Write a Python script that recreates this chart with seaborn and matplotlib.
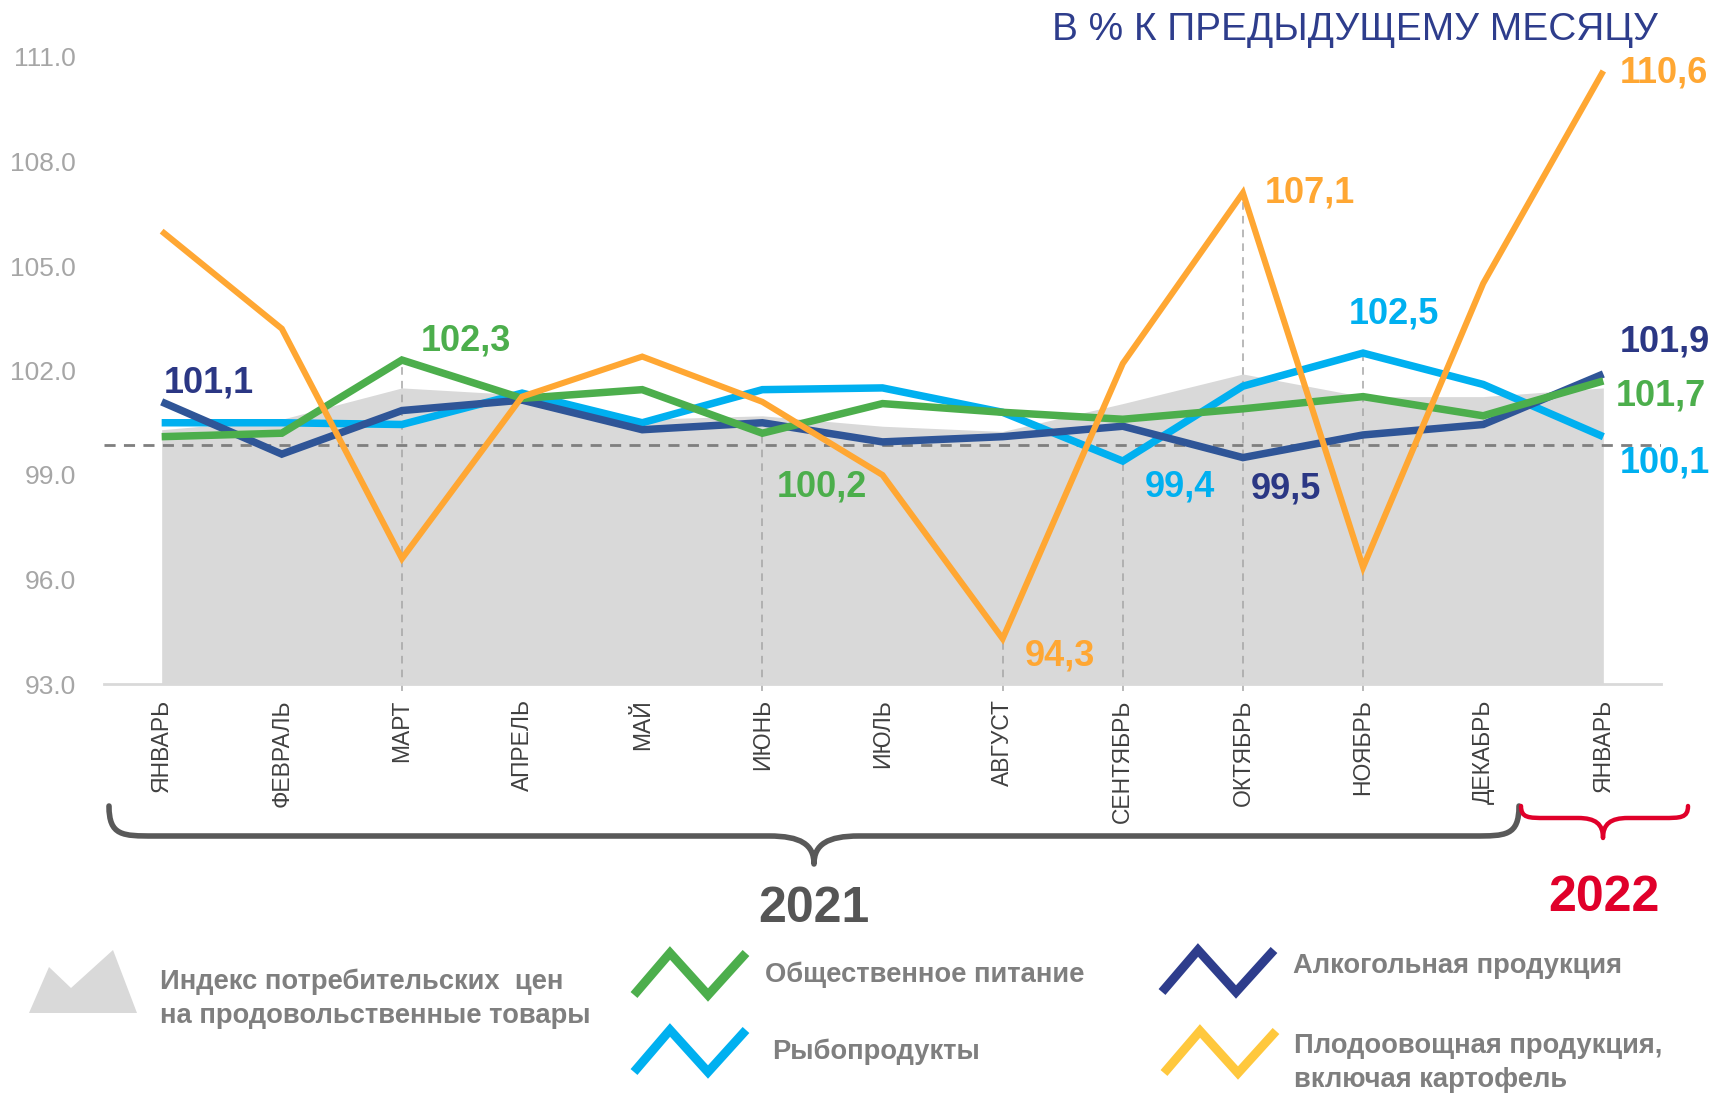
import numpy as np
import pandas as pd
import seaborn as sns
import matplotlib.pyplot as plt
from matplotlib.path import Path
from matplotlib.patches import PathPatch, Polygon

# month labels (two Januaries -> use positional index on x)
months = ['ЯНВАРЬ', 'ФЕВРАЛЬ', 'МАРТ', 'АПРЕЛЬ', 'МАЙ', 'ИЮНЬ', 'ИЮЛЬ',
          'АВГУСТ', 'СЕНТЯБРЬ', 'ОКТЯБРЬ', 'НОЯБРЬ', 'ДЕКАБРЬ', 'ЯНВАРЬ']

# % to previous month
cpi_food = [100.3, 100.6, 101.5, 101.3, 100.6, 100.7, 100.4, 100.25, 101.05, 101.9, 101.25, 101.25, 101.5]
catering = [100.1, 100.2, 102.3, 101.2, 101.45, 100.2, 101.05, 100.8, 100.6, 100.9, 101.25, 100.7, 101.7]
fish = [100.5, 100.5, 100.45, 101.35, 100.5, 101.45, 101.5, 100.8, 99.4, 101.55, 102.5, 101.6, 100.1]
alcohol = [101.1, 99.6, 100.85, 101.15, 100.3, 100.5, 99.95, 100.1, 100.4, 99.5, 100.15, 100.45, 101.9]
fruit_veg = [106.0, 103.2, 96.6, 101.25, 102.4, 101.1, 99.0, 94.3, 102.2, 107.1, 96.35, 104.5, 110.6]

y_ticks = [93.0, 96.0, 99.0, 102.0, 105.0, 108.0, 111.0]
base_level = 99.85

df = pd.DataFrame({'idx': np.arange(len(months)), 'month': months,
                   'cpi': cpi_food, 'catering': catering, 'fish': fish,
                   'alcohol': alcohol, 'fruit': fruit_veg})

C_NAVY = '#2f5597'
C_NAVY_TXT = '#2b3784'
C_CYAN = '#00b0f0'
C_GREEN = '#4cae4c'
C_ORANGE = '#ffa733'

sns.set_theme(style='white')
plt.rcParams['font.family'] = ['Liberation Sans', 'DejaVu Sans']

W, H = 1713, 1094
fig = plt.figure(figsize=(W / 100, H / 100), dpi=100)
ax = fig.add_axes([104 / W, 1 - 684 / H, (1661 - 104) / W, (684 - 57) / H])

# grey area: food CPI
ax.fill_between(df['idx'], 93, df['cpi'], color='#d9d9d9', lw=0, zorder=1)
ax.axhline(base_level, color='#7f7f7f', lw=2, ls=(0, (4, 3)), zorder=2)

# drop lines under the highlighted points
drops = [(2, 'catering'), (5, 'catering'), (7, 'fruit'), (8, 'fish'), (9, 'fruit'), (10, 'fish')]
for i, col in drops:
    ax.vlines(i, 92.8, df[col][i], color='#a6a6a6', lw=1.1, ls=(0, (5, 4)),
              zorder=2, clip_on=False)

series = [('fish', C_CYAN, 5.4), ('alcohol', C_NAVY, 5.4),
          ('catering', C_GREEN, 5.4), ('fruit', C_ORANGE, 4.4)]
for k, (col, c, lw) in enumerate(series):
    sns.lineplot(data=df, x='idx', y=col, ax=ax, color=c, linewidth=lw,
                 zorder=3 + k, legend=False)
for ln in ax.lines[-4:]:
    ln.set_solid_joinstyle('miter')
    ln.set_solid_capstyle('butt')

# value labels: (series, index, text colour, dx px, dy px, ha)
labels = [('alcohol', 0, C_NAVY_TXT, 2, 19, 'left'),
          ('catering', 2, C_GREEN, 19, 19, 'left'),
          ('catering', 5, C_GREEN, 14, -54, 'left'),
          ('fruit', 7, C_ORANGE, 22, -17, 'left'),
          ('fish', 8, C_CYAN, 22, -26, 'left'),
          ('alcohol', 9, C_NAVY_TXT, 8, -31, 'left'),
          ('fruit', 9, C_ORANGE, 22, 0, 'left'),
          ('fish', 10, C_CYAN, 31, 39, 'center'),
          ('fruit', 12, C_ORANGE, 16, -2, 'left'),
          ('alcohol', 12, C_NAVY_TXT, 16, 32, 'left'),
          ('catering', 12, C_GREEN, 12, -15, 'left'),
          ('fish', 12, C_CYAN, 16, -26, 'left')]
for col, i, c, dx, dy, ha in labels:
    v = df[col][i]
    ax.annotate(f'{v:.1f}'.replace('.', ','), (i, v), xytext=(dx, dy),
                textcoords='offset pixels', ha=ha, va='center',
                fontsize=26, fontweight='bold', color=c, zorder=10,
                annotation_clip=False)

ax.set_xlim(-0.48, 12.48)
ax.set_ylim(93, 111)
ax.set_xticks(df['idx'])
ax.set_xticklabels(months, rotation=90, fontsize=16.5, color='#404040')
ax.set_yticks(y_ticks)
ax.set_yticklabels([f'{t:.1f}' for t in y_ticks], fontsize=19, color='#a6a6a6')
ax.tick_params(axis='x', length=0, pad=11)
ax.tick_params(axis='y', length=0, pad=20)
ax.set_xlabel('')
ax.set_ylabel('')
for s in ['left', 'right', 'top']:
    ax.spines[s].set_visible(False)
ax.spines['bottom'].set_color('#d9d9d9')
ax.spines['bottom'].set_linewidth(2)
ax.set_facecolor('none')

# overlay in pixel coordinates for title, braces and legend
ov = fig.add_axes([0, 0, 1, 1], zorder=5)
ov.set_xlim(0, W)
ov.set_ylim(H, 0)
ov.axis('off')
ov.patch.set_alpha(0)

ov.text(1658, 30, 'В % К ПРЕДЫДУЩЕМУ МЕСЯЦУ', ha='right', va='center',
        fontsize=28, color='#2e3d8c')


def brace(x0, x1, xm, ytop, yh, ytip, r, color, lw):
    verts = [(x0, ytop), (x0, yh), (x0 + r * 0.3, yh), (x0 + r, yh),
             (xm - r, yh),
             (xm - r * 0.3, yh), (xm, yh + (ytip - yh) * 0.3), (xm, ytip),
             (xm, yh + (ytip - yh) * 0.3), (xm + r * 0.3, yh), (xm + r, yh),
             (x1 - r, yh),
             (x1 - r * 0.3, yh), (x1, yh), (x1, ytop)]
    codes = [Path.MOVETO, Path.CURVE4, Path.CURVE4, Path.CURVE4, Path.LINETO,
             Path.CURVE4, Path.CURVE4, Path.CURVE4,
             Path.CURVE4, Path.CURVE4, Path.CURVE4, Path.LINETO,
             Path.CURVE4, Path.CURVE4, Path.CURVE4]
    ov.add_patch(PathPatch(Path(verts, codes), fill=False, ec=color, lw=lw,
                           capstyle='round', joinstyle='round'))


brace(109, 1519, 814, 806, 836, 864, 45, '#595959', 4)
brace(1521, 1688, 1603, 806, 818, 838, 25, '#e0002a', 3.2)
ov.text(814, 909, '2021', ha='center', va='center', fontsize=36,
        fontweight='bold', color='#555555')
ov.text(1604, 898, '2022', ha='center', va='center', fontsize=36,
        fontweight='bold', color='#e0002a')

# legend
ov.add_patch(Polygon([(29, 1013), (49, 967), (71, 988), (113, 950), (137, 1013)],
                     closed=True, fc='#d9d9d9', ec='none'))
leg_txt = '#7f7f7f'
ov.text(160, 999, 'Индекс потребительских  цен\nна продовольственные товары',
        ha='left', va='center', fontsize=19.7, fontweight='bold', color=leg_txt,
        linespacing=1.4)
icons = [(634, 995, C_GREEN, 'Общественное питание', 765, 975),
         (634, 1072, C_CYAN, 'Рыбопродукты', 772, 1052),
         (1162, 992, '#2e3d8c', 'Алкогольная продукция', 1293, 966),
         (1164, 1073, '#ffc83d', 'Плодоовощная продукция,\nвключая картофель', 1294, 1063)]
for x0, yb, c, txt, tx, ty in icons:
    ov.plot([x0, x0 + 36, x0 + 74, x0 + 112], [yb, yb - 42, yb, yb - 42],
            color=c, lw=6.5, solid_joinstyle='miter', solid_capstyle='butt')
    ov.text(tx, ty, txt, ha='left', va='center', fontsize=19.7,
            fontweight='bold', color=leg_txt, linespacing=1.4)

fig.savefig('out.png', dpi=100)
